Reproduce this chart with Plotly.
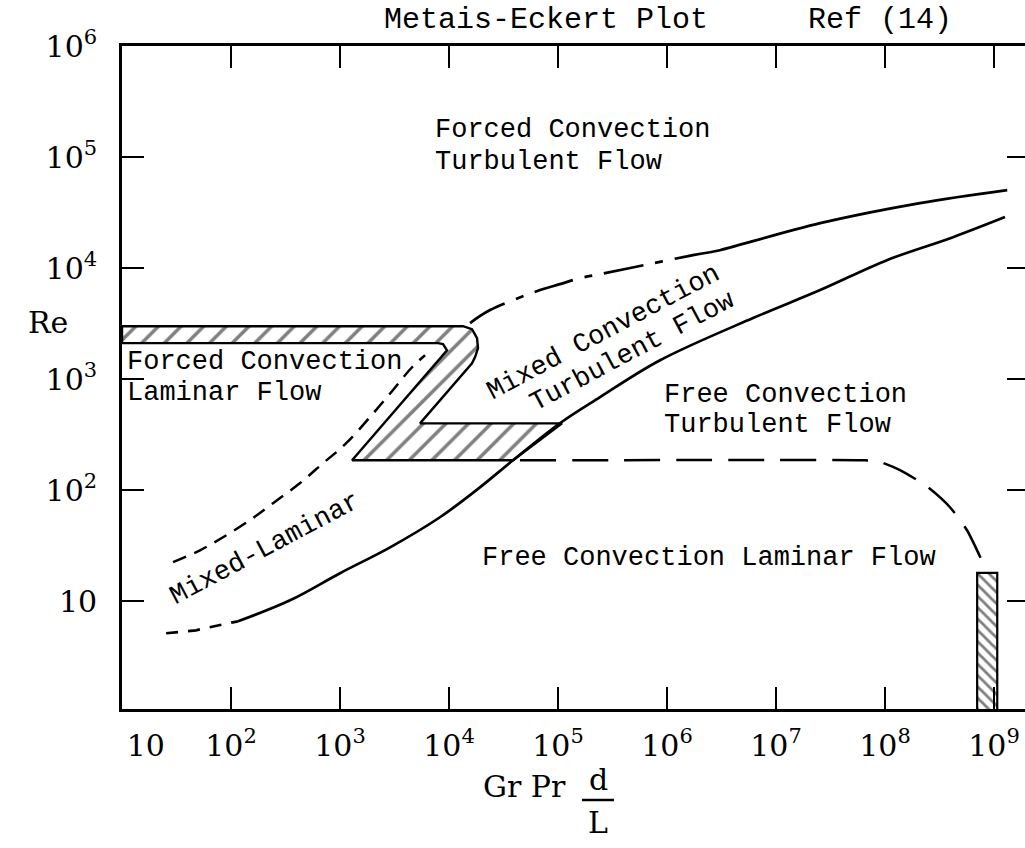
import plotly.graph_objects as go

# ---------------- data (Gr Pr d/L , Re) ----------------
X_TICKS = [1e1, 1e2, 1e3, 1e4, 1e5, 1e6, 1e7, 1e8, 1e9]
X_TICK_TEXT = ["\u00a0" * 5 + "10", "10<sup>2</sup>", "10<sup>3</sup>", "10<sup>4</sup>",
               "10<sup>5</sup>", "10<sup>6</sup>", "10<sup>7</sup>", "10<sup>8</sup>", "10<sup>9</sup>"]
Y_TICKS = [1e1, 1e2, 1e3, 1e4, 1e5, 1e6]
Y_TICK_TEXT = ["10", "10<sup>2</sup>", "10<sup>3</sup>", "10<sup>4</sup>", "10<sup>5</sup>", "10<sup>6</sup>"]

# lower boundary of mixed region (dashed start, then solid)
LOW_DASH_GR = [25.4, 47.7, 84.5, 116]
LOW_DASH_RE = [5.15, 5.48, 6.2, 6.6]
LOW_GR = [116, 348, 1000, 2880, 8260, 19200, 38600, 104000, 243000, 863000,
          6.15e6, 2.54e7, 1.04e8, 4.21e8, 1.26e9]
LOW_RE = [6.6, 10.2, 17.9, 30.6, 57.1, 106, 186, 401, 689, 1480,
          3550, 6340, 11800, 19000, 28800]

# upper boundary (forced turbulent / mixed turbulent)
UP_DASH_GR = [15600, 23800, 68400, 104000, 159000, 243000, 698000, 1.73e6, 2.48e6]
UP_DASH_RE = [3200, 4190, 6340, 7170, 8120, 8830, 10900, 13100, 13900]
UP_GR = [2.48e6, 3.06e6, 2.54e7, 2.09e8, 1.32e9]
UP_RE = [13900, 14500, 25400, 38500, 50400]

# mixed-laminar upper boundary (dashed)
ML_GR = [29.4, 52.0, 84.5, 149, 243, 430, 698, 1140, 2700, 4580, 6030]
ML_RE = [22.5, 28.8, 37.7, 53.7, 76.4, 116, 175, 265, 689, 1280, 1640]

# free convection laminar / turbulent boundary (dashed)
FREE_GR = [44800, 5.5e7, 8.5e7, 1.37e8, 2.43e8, 3.94e8, 5.65e8, 8.26e8]
FREE_RE = [186, 186, 183, 152, 108, 70.3, 43.6, 20.2]

# hatched transition zone (Z shape)
Z_GR = [10, 13430, 16250, 18070, 18450, 17340, 16250, 5420, 108900, 38640,
        1290, 9590, 8810, 7930, 10, 10]
Z_RE = [3000, 3000, 2820, 2340, 1900, 1580, 1390, 400, 400, 186,
        186, 1820, 2070, 2110, 2110, 3000]

# hatched bar near Gr ~ 1e9
BAR_GR = [7.0e8, 1.07e9]
BAR_RE = [1, 18]

# ---------------- figure ----------------
W, H = 1025, 848
L, R, T, B = 122, 0, 46, 139
PW, PH = W - L - R, H - T - B

def px(x, y):
    return (x - L) / PW, (H - B - y) / PH

LINE = dict(color="black", width=2.7)

fig = go.Figure()

fig.add_trace(go.Scatter(x=Z_GR, y=Z_RE, mode="lines", fill="toself", fillcolor="white",
                         fillpattern=dict(shape="/", size=16, solidity=0.22,
                                          fgcolor="black", bgcolor="white"),
                         line=dict(color="black", width=2.4), hoverinfo="skip"))
bx = [BAR_GR[0], BAR_GR[1], BAR_GR[1], BAR_GR[0], BAR_GR[0]]
by = [BAR_RE[0], BAR_RE[0], BAR_RE[1], BAR_RE[1], BAR_RE[0]]
fig.add_trace(go.Scatter(x=bx, y=by, mode="lines", fill="toself", fillcolor="white",
                         fillpattern=dict(shape="\\", size=8, solidity=0.35,
                                          fgcolor="black", bgcolor="white"),
                         line=dict(color="black", width=2.2), hoverinfo="skip"))

fig.add_trace(go.Scatter(x=LOW_DASH_GR, y=LOW_DASH_RE, mode="lines",
                         line=dict(color="black", width=2.7, dash="12px,10px")))
fig.add_trace(go.Scatter(x=LOW_GR, y=LOW_RE, mode="lines", line=LINE, line_shape="spline"))
fig.add_trace(go.Scatter(x=UP_DASH_GR, y=UP_DASH_RE, mode="lines", line_shape="spline",
                         line=dict(color="black", width=2.7, dash="40px,12px,8px,12px")))
fig.add_trace(go.Scatter(x=UP_GR, y=UP_RE, mode="lines", line=LINE, line_shape="spline"))
fig.add_trace(go.Scatter(x=ML_GR, y=ML_RE, mode="lines", line_shape="spline",
                         line=dict(color="black", width=2.5, dash="14px,9px")))
fig.add_trace(go.Scatter(x=FREE_GR, y=FREE_RE, mode="lines",
                         line=dict(color="black", width=2.5, dash="36px,16px",
                                   shape="spline", smoothing=0.6)))
# invisible trace for right-hand tick axis
fig.add_trace(go.Scatter(x=[1e5], y=[1e3], yaxis="y2", mode="markers",
                         marker=dict(opacity=0), hoverinfo="skip"))

MONO = dict(family="Liberation Mono, Courier New, monospace", size=27, color="black")
SERIF = dict(family="DejaVu Serif, serif", size=30, color="black")

anns = []
def text(t, x, y, font=MONO, xanchor="left", angle=0):
    px_, py_ = px(x, y)
    anns.append(dict(text=t, x=px_, y=py_, xref="paper", yref="paper", showarrow=False,
                     xanchor=xanchor, yanchor="middle", font=font, textangle=angle))

text("Metais-Eckert Plot", 382, 20, font=dict(MONO, size=30))
text("Ref (14)", 806, 20, font=dict(MONO, size=30))
text("Forced Convection", 433, 130)
text("Turbulent Flow", 433, 162)
text("Forced Convection", 125, 362)
text("Laminar Flow", 125, 393)
text("Free Convection", 662, 395)
text("Turbulent Flow", 662, 425)
text("Free Convection Laminar Flow", 480, 558)
text("Mixed-Laminar", 265, 549, xanchor="center", angle=-28)
text("Mixed Convection", 603, 333, xanchor="center", angle=-28)
text("Turbulent Flow", 632, 352, xanchor="center", angle=-28)
text("Re", 48, 322, font=SERIF, xanchor="center")
text("Gr Pr", 524, 786, font=SERIF, xanchor="center")
text("d", 598, 779, font=SERIF, xanchor="center")
text("L", 598, 822, font=SERIF, xanchor="center")

x0, y0 = px(582, 800)
x1, _ = px(614, 800)
shapes = [dict(type="line", xref="paper", yref="paper", x0=x0, x1=x1, y0=y0, y1=y0,
               line=dict(color="black", width=2.5))]

TICKFONT = dict(family="DejaVu Serif, serif", size=30, color="black")

fig.update_layout(
    width=W, height=H, margin=dict(l=L, r=R, t=T, b=B, pad=0),
    paper_bgcolor="white", plot_bgcolor="white", showlegend=False,
    annotations=anns, shapes=shapes,
    xaxis=dict(type="log", range=[1.0, 9.284], tickvals=X_TICKS, ticktext=X_TICK_TEXT,
               ticks="inside", ticklen=22, tickwidth=2, tickcolor="black",
               showline=True, linewidth=2.7, linecolor="black", mirror="ticks",
               showgrid=False, zeroline=False, tickfont=TICKFONT, ticklabelstandoff=8),
    yaxis=dict(type="log", range=[0.03, 6.0], tickvals=Y_TICKS, ticktext=Y_TICK_TEXT,
               ticks="inside", ticklen=22, tickwidth=2, tickcolor="black",
               showline=True, linewidth=2.7, linecolor="black", mirror=False,
               showgrid=False, zeroline=False, tickfont=TICKFONT, ticklabelstandoff=16),
    yaxis2=dict(type="log", range=[0.03, 6.0], overlaying="y", side="right",
                tickvals=Y_TICKS, ticks="inside", ticklen=18, tickwidth=2, tickcolor="black",
                showticklabels=False, showline=False, showgrid=False, zeroline=False),
)

fig.write_html("out.html")
